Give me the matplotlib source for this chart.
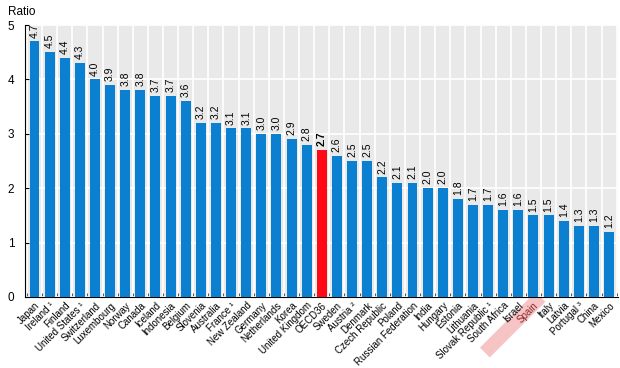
import matplotlib
matplotlib.use('Agg')
import matplotlib.pyplot as plt
import matplotlib.transforms as mtransforms
import numpy as np

plt.rcParams['font.family'] = ['Liberation Sans', 'DejaVu Sans']

countries = ["Japan", "Ireland ¹", "Finland", "United States ¹", "Switzerland", "Luxembourg",
             "Norway", "Canada", "Iceland", "Indonesia", "Belgium", "Slovenia", "Australia",
             "France ¹", "New Zealand", "Germany", "Netherlands", "Korea", "United Kingdom",
             "OECD36", "Sweden", "Austria ²", "Denmark", "Czech Republic", "Poland",
             "Russian Federation", "India", "Hungary", "Estonia", "Lithuania",
             "Slovak Republic ¹", "South Africa", "Israel", "Spain", "Italy", "Latvia",
             "Portugal ³", "China", "Mexico"]
ratio = [4.7, 4.5, 4.4, 4.3, 4.0, 3.9, 3.8, 3.8, 3.7, 3.7, 3.6, 3.2, 3.2, 3.1, 3.1,
         3.0, 3.0, 2.9, 2.8, 2.7, 2.6, 2.5, 2.5, 2.2, 2.1, 2.1, 2.0, 2.0, 1.8, 1.7,
         1.7, 1.6, 1.6, 1.5, 1.5, 1.4, 1.3, 1.3, 1.2]
highlight = "OECD36"
marked = "Spain"

blue = "#0b7fd0"
red = "#ff0a14"

fig = plt.figure(figsize=(6.2, 3.68), dpi=100)
ax = fig.add_axes([0.041, 0.193, 0.956, 0.739])
ax.set_facecolor("#e9e9e9")

x = np.arange(len(countries))
colors = [red if c == highlight else blue for c in countries]
ax.bar(x, ratio, width=0.66, color=colors, zorder=3)

# value labels
for xi, v, c in zip(x, ratio, countries):
    ax.text(xi, v + 0.07, "{:.1f}".format(v), rotation=90, ha='center', va='bottom',
            fontsize=7.5, fontweight='bold' if c == highlight else 'normal', zorder=4)

ax.set_xlim(-0.6, len(countries) - 0.4)
ax.set_ylim(0, 5)
ax.set_yticks(range(6))
ax.set_xticks(x)
ax.set_xticklabels(countries, rotation=45, ha='right', va='top', fontsize=7,
                   rotation_mode='anchor')
ax.tick_params(axis='x', length=0, pad=2.5)
ax.set_xticks(np.arange(-0.5, len(countries), 1), minor=True)
ax.tick_params(axis='x', which='minor', direction='in', length=3, color='#333333')
ax.tick_params(axis='y', length=3, direction='in', labelsize=8.5, pad=8)

ax.grid(axis='y', color='white', linewidth=1.2, zorder=1)
ax.grid(axis='x', which='minor', color='white', linewidth=1.2, zorder=1)
ax.set_axisbelow(True)
for s in ['top', 'right']:
    ax.spines[s].set_visible(False)
ax.spines['left'].set_color('black')
ax.spines['bottom'].set_color('black')

for lbl in ax.get_xticklabels():
    if lbl.get_text() == marked:
        lbl.set_color('#8c2a2a')

# pink band behind the marked label
i = countries.index(marked)
base = mtransforms.blended_transform_factory(ax.transData, ax.transAxes)
off1 = mtransforms.ScaledTranslation(5 / 72, 0, fig.dpi_scale_trans)
off2 = mtransforms.ScaledTranslation(-35 / 72, -40 / 72, fig.dpi_scale_trans)
inv = fig.transFigure.inverted()
fa = inv.transform((base + off1).transform((i, 0)))
fb = inv.transform((base + off2).transform((i, 0)))
band = plt.Line2D([fa[0], fb[0]], [fa[1], fb[1]], transform=fig.transFigure,
                  color='#f6c4c4', linewidth=10, solid_capstyle='butt', zorder=0)
fig.add_artist(band)

fig.text(0.013, 0.952, "Ratio", fontsize=8.5, ha='left', va='bottom')

fig.savefig("out.png", dpi=100)
